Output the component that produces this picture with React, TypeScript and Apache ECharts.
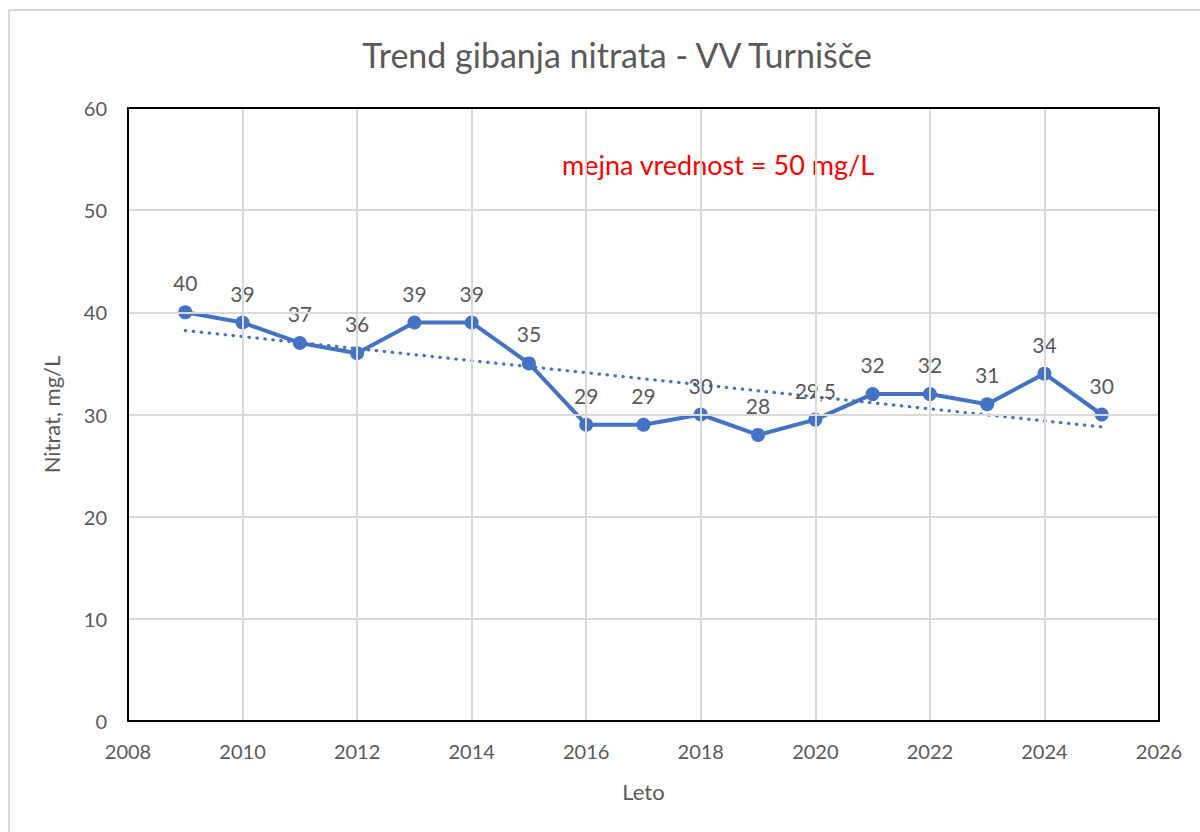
import React, { useEffect, useRef } from "react";
import * as echarts from "echarts";

const years = [2009, 2010, 2011, 2012, 2013, 2014, 2015, 2016, 2017, 2018, 2019, 2020, 2021, 2022, 2023, 2024, 2025];
const nitrate = [40, 39, 37, 36, 39, 39, 35, 29, 29, 30, 28, 29.5, 32, 32, 31, 34, 30];
const titleText = "Trend gibanja nitrata - VV Turnišče";
const noteText = "mejna vrednost = 50 mg/L";
const xName = "Leto";
const yName = "Nitrat, mg/L";

// Linear trendline (least squares) over the data, as Excel does
function trend(): [number, number][] {
  const n = years.length;
  const mx = years.reduce((a, b) => a + b, 0) / n;
  const my = nitrate.reduce((a, b) => a + b, 0) / n;
  let sxy = 0, sxx = 0;
  for (let i = 0; i < n; i++) {
    sxy += (years[i] - mx) * (nitrate[i] - my);
    sxx += (years[i] - mx) * (years[i] - mx);
  }
  const k = sxy / sxx;
  const x0 = years[0], x1 = years[n - 1];
  return [[x0, my + k * (x0 - mx)], [x1, my + k * (x1 - mx)]];
}

const FONT = "Lato";
const GRAY = "#595959";
const BLUE = "#4472C4";
const GRID = "#d9d9d9";

const frameAxis = { show: true, lineStyle: { color: "#000", width: 2 } };

export default function App() {
  const ref = useRef<HTMLDivElement>(null);
  useEffect(() => {
    const chart = echarts.init(ref.current!, undefined, { renderer: "svg" });
    chart.setOption({
      animation: false,
      backgroundColor: "#fff",
      textStyle: { fontFamily: FONT },
      title: {
        text: titleText,
        left: 612,
        top: 32,
        textAlign: "center",
        textStyle: { fontFamily: FONT, fontSize: 34, fontWeight: "normal", color: GRAY },
      },
      grid: { left: 128, right: 41, top: 108, bottom: 111 },
      xAxis: [
        {
          type: "value",
          min: 2008,
          max: 2026,
          interval: 2,
          name: xName,
          nameLocation: "middle",
          nameGap: 59,
          nameTextStyle: { fontFamily: FONT, fontSize: 22, color: GRAY },
          axisLine: { ...frameAxis, onZero: false },
          axisTick: { show: false },
          axisLabel: { fontFamily: FONT, fontSize: 20, color: GRAY, margin: 20, formatter: (v: number) => String(v) },
          splitLine: { show: true, lineStyle: { color: GRID, width: 2 } },
          z: 5,
        },
        {
          type: "value",
          position: "top",
          min: 2008,
          max: 2026,
          interval: 2,
          axisLine: { ...frameAxis, onZero: false },
          axisTick: { show: false },
          axisLabel: { show: false },
          splitLine: { show: false },
          z: 5,
        },
      ],
      yAxis: [
        {
          type: "value",
          min: 0,
          max: 60,
          interval: 10,
          name: yName,
          nameLocation: "middle",
          nameGap: 66,
          nameTextStyle: { fontFamily: FONT, fontSize: 22, color: GRAY },
          axisLine: { ...frameAxis, onZero: false },
          axisTick: { show: false },
          axisLabel: { fontFamily: FONT, fontSize: 20, color: GRAY, margin: 21 },
          splitLine: { show: true, lineStyle: { color: GRID, width: 2 } },
          z: 5,
        },
        {
          type: "value",
          position: "right",
          min: 0,
          max: 60,
          interval: 10,
          axisLine: { ...frameAxis, onZero: false },
          axisTick: { show: false },
          axisLabel: { show: false },
          splitLine: { show: false },
          z: 5,
        },
      ],
      graphic: [
        {
          type: "rect",
          shape: { x: 9, y: 10, width: 1300, height: 900 },
          style: { fill: "none", stroke: GRID, lineWidth: 2 },
          silent: true,
        },
        {
          type: "text",
          x: 718,
          y: 164,
          style: { text: noteText, fill: "#ff0000", fontFamily: FONT, fontSize: 27, textAlign: "center", textVerticalAlign: "middle" },
        },
      ],
      series: [
        {
          type: "line",
          data: trend(),
          symbol: "none",
          lineStyle: { color: BLUE, width: 3.2, type: [0.5, 7.5], cap: "round" },
          z: 2,
          silent: true,
        },
        {
          type: "line",
          data: years.map((y, i) => [y, nitrate[i]]),
          symbol: "circle",
          symbolSize: 14,
          itemStyle: { color: BLUE },
          lineStyle: { color: BLUE, width: 4 },
          label: {
            show: true,
            position: "top",
            distance: 12,
            fontFamily: FONT,
            fontSize: 21,
            color: GRAY,
            formatter: (p: any) => String(p.value[1]).replace(".", ","),
          },
          z: 3,
        },
      ],
    });
    return () => chart.dispose();
  }, []);
  return <div ref={ref} style={{ position: "fixed", left: 0, top: 0, width: 1200, height: 832 }} />;
}
